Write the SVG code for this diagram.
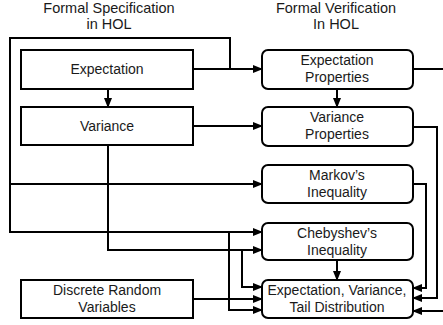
<svg xmlns="http://www.w3.org/2000/svg" width="443" height="325" viewBox="0 0 443 325">
<style>
  .box { fill: #ffffff; stroke: #000000; stroke-width: 2; }
  .lbl { font-family: "Liberation Sans", Arial, sans-serif; font-size: 14px; fill: #1a1a1a; text-anchor: middle; }
  .ttl { font-family: "Liberation Sans", Arial, sans-serif; font-size: 14.5px; fill: #1a1a1a; text-anchor: middle; }
  .con { fill: none; stroke: #000000; stroke-width: 2; }
  .arr { marker-end: url(#ah); }
</style>
<defs>
  <marker id="ah" markerUnits="userSpaceOnUse" markerWidth="10" markerHeight="8" refX="9" refY="4" orient="auto">
    <path d="M0,0 L10,4 L0,8 Z" fill="#000000"/>
  </marker>
</defs>
<rect width="443" height="325" fill="#ffffff"/>
<g id="titles">
  <text class="ttl" x="109" y="13">Formal Specification</text>
  <text class="ttl" x="109" y="29">in HOL</text>
  <text class="ttl" x="336" y="13">Formal Verification</text>
  <text class="ttl" x="336" y="29">In HOL</text>
</g>
<g id="connectors">
  <path class="con arr" d="M108 89 V107"/>
  <path class="con arr" d="M193 69 H262"/>
  <path class="con arr" d="M230 69 V38 H10 V232 H262"/>
  <path class="con arr" d="M10 184 H262"/>
  <path class="con arr" d="M229 232 V310 H262"/>
  <path class="con arr" d="M193 126 H262"/>
  <path class="con arr" d="M108 145 V250 H262"/>
  <path class="con arr" d="M242 250 V287 H262"/>
  <path class="con arr" d="M193 299 H262"/>
  <path class="con arr" d="M337 89 V107"/>
  <path class="con arr" d="M337 260 V280"/>
  <path class="con arr" d="M413 184 H426 V288 H413"/>
  <path class="con arr" d="M413 127 H437 V298 H413"/>
  <path class="con arr" d="M413 69 H447 V311 H413"/>
</g>
<g id="expectation">
  <rect class="box" x="21" y="50" width="172" height="39"/>
  <text class="lbl" x="107" y="74">Expectation</text>
</g>
<g id="variance">
  <rect class="box" x="21" y="107" width="172" height="38"/>
  <text class="lbl" x="107" y="131">Variance</text>
</g>
<g id="discrete">
  <rect class="box" x="21" y="280" width="172" height="38"/>
  <text class="lbl" x="107" y="295">Discrete Random</text>
  <text class="lbl" x="107" y="312">Variables</text>
</g>
<g id="exp-props">
  <rect class="box" x="262" y="50" width="151" height="39" rx="6"/>
  <text class="lbl" x="337" y="65">Expectation</text>
  <text class="lbl" x="337" y="82">Properties</text>
</g>
<g id="var-props">
  <rect class="box" x="262" y="107" width="151" height="39" rx="6"/>
  <text class="lbl" x="337" y="122">Variance</text>
  <text class="lbl" x="337" y="139">Properties</text>
</g>
<g id="markov">
  <rect class="box" x="262" y="165" width="151" height="38" rx="6"/>
  <text class="lbl" x="337" y="180">Markov’s</text>
  <text class="lbl" x="337" y="197">Inequality</text>
</g>
<g id="chebyshev">
  <rect class="box" x="262" y="223" width="151" height="37" rx="6"/>
  <text class="lbl" x="337" y="238">Chebyshev’s</text>
  <text class="lbl" x="337" y="255">Inequality</text>
</g>
<g id="tail">
  <rect class="box" x="262" y="280" width="151" height="38" rx="6"/>
  <text class="lbl" x="337" y="295">Expectation, Variance,</text>
  <text class="lbl" x="337" y="312">Tail Distribution</text>
</g>
</svg>
